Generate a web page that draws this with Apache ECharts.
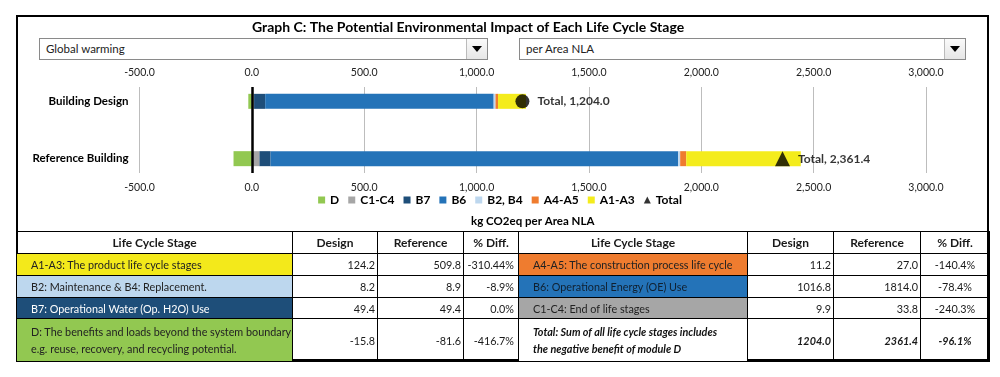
<!DOCTYPE html>
<html>
<head>
<meta charset="utf-8">
<script src="https://cdn.jsdelivr.net/npm/echarts/dist/echarts.min.js"></script>
<style>
  body { margin: 0; background: #fff; font-family: Lato, "DejaVu Sans", sans-serif; color: #111; }
  #page { position: relative; width: 1000px; height: 377px; overflow: hidden; }
  #frame { position: absolute; left: 16px; top: 15px; width: 973px; height: 346px; box-sizing: border-box; border: 2px solid #000; }
  #chart { position: absolute; left: 0; top: 0; width: 1000px; height: 232px; z-index: 1; }
  .dropdown { position: absolute; top: 38px; height: 22px; box-sizing: border-box; border: 1px solid #8a8a8a; background: #fff; z-index: 2; font-size: 11.5px; line-height: 20px; padding-left: 6px; color: #222; }
  .dropdown .btn { position: absolute; right: 0; top: 0; width: 20px; height: 20px; border-left: 1px solid #bbb; background: linear-gradient(#fafafa, #e6e6e6); }
  .dropdown .btn::after { content: ""; position: absolute; left: 5px; top: 7px; border-left: 5px solid transparent; border-right: 5px solid transparent; border-top: 6px solid #000; }
  #table { position: absolute; left: 16px; top: 231px; width: 973px; border-collapse: collapse; z-index: 2; font-size: 10.8px; table-layout: fixed; color: #1a1a1a; }
  #table td, #table th { border: 1px solid #000; padding: 0; }
  #table th { font-weight: bold; height: 21px; font-size: 12px; text-align: center; }
  #table td.stage { padding-left: 14px; text-align: left; line-height: 17px; }
  #table td.num { text-align: right; padding-right: 2px; }
  #table td.pct { text-align: right; padding-right: 4px; }
  #table td.pctc { text-align: center; }
  #table tr.r1 td, #table tr.r2 td { height: 21px; }
  #table tr.r3 td { height: 20px; }
  #table tr.r4 td { height: 42px; }
  #table tr.tot td { font-style: italic; font-weight: bold; }
</style>
</head>
<body>
<div id="page">
  <div id="frame"></div>
  <div id="chart"></div>
  <div class="dropdown" style="left:39px;width:449px;">Global warming<div class="btn"></div></div>
  <div class="dropdown" style="left:519px;width:447px;">per Area NLA<div class="btn"></div></div>
  <table id="table"></table>
</div>
<script>
// chart data
const categories = ["Reference Building", "", "Building Design"];
const stageNames = ["D", "C1-C4", "B7", "B6", "B2, B4", "A4-A5", "A1-A3"];
const designValues = [-15.8, 9.9, 49.4, 1016.8, 8.2, 11.2, 124.2];
const referenceValues = [-81.6, 33.8, 49.4, 1814.0, 8.9, 27.0, 509.8];
const totalDesign = 1204.0;
const totalReference = 2361.4;
const axisMin = -500, axisMax = 3000, axisStep = 500;

// table data
const leftStages = [
  "A1-A3: The product life cycle stages",
  "B2: Maintenance &amp; B4: Replacement.",
  "B7: Operational Water (Op. H2O) Use",
  "D: The benefits and loads beyond the system boundary<br>e.g. reuse, recovery, and recycling potential."
];
const leftDesign = ["124.2", "8.2", "49.4", "-15.8"];
const leftReference = ["509.8", "8.9", "49.4", "-81.6"];
const leftDiff = ["-310.44%", "-8.9%", "0.0%", "-416.7%"];
const rightStages = [
  "A4-A5: The construction process life cycle",
  "B6: Operational Energy (OE) Use",
  "C1-C4: End of life stages",
  "Total: Sum of all life cycle stages includes<br>the negative benefit of module D"
];
const rightDesign = ["11.2", "1016.8", "9.9", "1204.0"];
const rightReference = ["27.0", "1814.0", "33.8", "2361.4"];
const rightDiff = ["-140.4%", "-78.4%", "-240.3%", "-96.1%"];

const barColors = ["#92c851", "#a6a6a6", "#1e4e79", "#2473b8", "#bdd7ee", "#ef7c2f", "#f4ec1c"];
const leftCellColors = [["#f3e91b", "#222"], ["#bdd7ee", "#222"], ["#1e4e79", "#fff"], ["#92c851", "#222"]];
const rightCellColors = [["#ef7c2f", "#222"], ["#2473b8", "#102030"], ["#a6a6a6", "#222"], ["#fff", "#111"]];

const fmt = (v) => v.toLocaleString("en-US", { minimumFractionDigits: 1, maximumFractionDigits: 1 });

// build table
const tbl = document.getElementById("table");
let html = '<colgroup><col style="width:276px"><col style="width:85px"><col style="width:86px"><col style="width:55px">' +
  '<col style="width:229px"><col style="width:86px"><col style="width:87px"><col style="width:69px"></colgroup>';
html += "<tr><th>Life Cycle Stage</th><th>Design</th><th>Reference</th><th>% Diff.</th>" +
  "<th>Life Cycle Stage</th><th>Design</th><th>Reference</th><th>% Diff.</th></tr>";
for (let i = 0; i < 4; i++) {
  const lc = leftCellColors[i], rc = rightCellColors[i];
  html += '<tr class="r' + (i + 1) + (i === 3 ? " tot" : "") + '">' +
    '<td class="stage" style="background:' + lc[0] + ";color:" + lc[1] + ';font-style:normal;font-weight:normal">' + leftStages[i] + "</td>" +
    '<td class="num" style="font-style:normal;font-weight:normal">' + leftDesign[i] + "</td>" +
    '<td class="num" style="font-style:normal;font-weight:normal">' + leftReference[i] + "</td>" +
    '<td class="pct" style="font-style:normal;font-weight:normal">' + leftDiff[i] + "</td>" +
    '<td class="stage" style="background:' + rc[0] + ";color:" + rc[1] + '">' + rightStages[i] + "</td>" +
    '<td class="num">' + rightDesign[i] + "</td>" +
    '<td class="num">' + rightReference[i] + "</td>" +
    '<td class="pctc">' + rightDiff[i] + "</td></tr>";
}
tbl.innerHTML = html;

// chart
const myChart = echarts.init(document.getElementById("chart"));

const series = stageNames.map((name, i) => {
  const s = {
    name: name,
    type: "bar",
    stack: "total",
    barWidth: 15,
    itemStyle: { color: barColors[i] },
    data: [referenceValues[i], "-", designValues[i]],
  };
  if (i === 0) {
    s.markLine = {
      silent: true,
      symbol: "none",
      label: { show: false },
      lineStyle: { color: "#000", width: 2.5, type: "solid" },
      data: [{ xAxis: 0 }],
    };
  }
  return s;
});

series.push({
  name: "Total",
  type: "scatter",
  symbol: "triangle",
  itemStyle: { color: "#000" },
  label: {
    show: true,
    position: "right",
    distance: 8,
    color: "#000",
    fontWeight: "bold",
    fontSize: 12,
    fontFamily: "Lato",
    formatter: (p) => "Total, " + fmt(p.value[0]),
  },
  data: [
    { value: [totalReference, 0], symbol: "triangle", symbolSize: 15 },
    { value: [totalDesign, 2], symbol: "circle", symbolSize: 14 },
  ],
  z: 5,
});

const xLabel = {
  fontSize: 10.5,
  color: "#222",
  fontFamily: "Lato",
  formatter: (v) => fmt(v),
};

const option = {
  animation: false,
  textStyle: { fontFamily: "Lato" },
  title: {
    text: "Graph C: The Potential Environmental Impact of Each Life Cycle Stage",
    left: 252,
    top: 20,
    padding: 0,
    textStyle: { fontSize: 14, fontWeight: "bold", color: "#000", fontFamily: "Lato" },
  },
  legend: {
    top: 189,
    left: "center",
    itemWidth: 7,
    itemHeight: 7,
    itemGap: 9,
    textStyle: { fontSize: 12, fontWeight: "bold", color: "#000", fontFamily: "Lato" },
    data: stageNames.map((n) => ({ name: n, icon: "rect" })).concat([{ name: "Total", icon: "triangle" }]),
  },
  grid: { left: 139.5, right: 74, top: 87, bottom: 59 },
  xAxis: [
    {
      type: "value",
      min: axisMin,
      max: axisMax,
      interval: axisStep,
      position: "bottom",
      axisLine: { show: false },
      axisTick: { show: false },
      axisLabel: Object.assign({ margin: 9 }, xLabel),
      splitLine: { lineStyle: { color: "#bdbdbd", width: 1 } },
      name: "kg CO2eq per Area NLA",
      nameLocation: "middle",
      nameGap: 42,
      nameTextStyle: { fontSize: 11.5, fontWeight: "bold", color: "#000", fontFamily: "Lato" },
    },
    {
      type: "value",
      min: axisMin,
      max: axisMax,
      interval: axisStep,
      position: "top",
      axisLine: { show: false },
      axisTick: { show: false },
      axisLabel: Object.assign({ margin: 9 }, xLabel),
      splitLine: { show: false },
    },
  ],
  yAxis: {
    type: "category",
    data: categories,
    axisLine: { show: false },
    axisTick: { show: false },
    axisLabel: { fontSize: 11.5, fontWeight: "bold", color: "#000", margin: 11, fontFamily: "Lato" },
  },
  series: series,
};

myChart.setOption(option);
</script>
</body>
</html>
